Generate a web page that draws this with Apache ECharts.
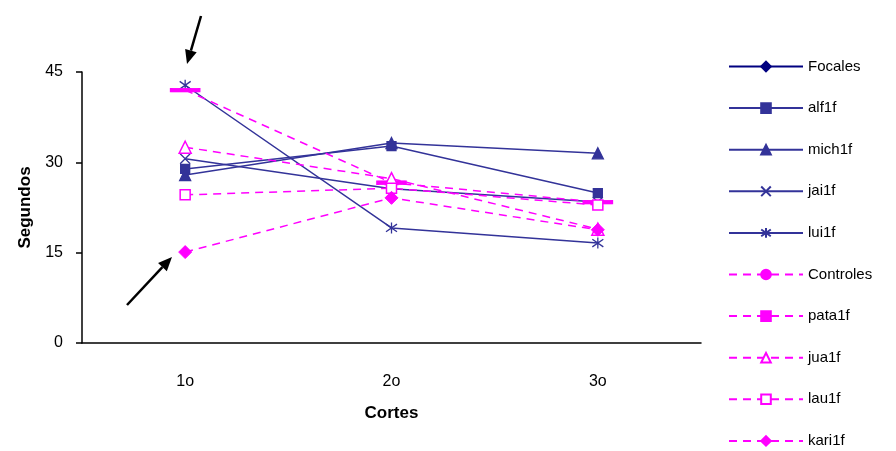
<!DOCTYPE html>
<html>
<head>
<meta charset="utf-8">
<script src="https://cdn.jsdelivr.net/npm/echarts@6/dist/echarts.min.js"></script>
<style>
  html, body { margin: 0; padding: 0; background: #fff; }
  #box { width: 896px; height: 451px; }
</style>
</head>
<body>
<div id="box"></div>
<script>
// categorias y valores
const cortes = ['1o', '2o', '3o']
const yTicks = [0, 15, 30, 45]

const focales = [null, null, null]
const alf1f = [28.9, 32.7, 24.9]
const mich1f = [27.9, 33.2, 31.5]
const jai1f = [30.6, 25.6, 23.4]
const lui1f = [42.8, 19.1, 16.6]

const controles = [null, null, null]
const pata1f = [42.0, 26.6, 23.4]
const jua1f = [32.5, 27.3, 18.9]
const lau1f = [24.6, 25.7, 22.9]
const kari1f = [15.1, 24.1, 18.8]

const NAVY = '#333399'
const MAGENTA = '#FF00FF'

const X_PATH = 'path://M0,0L10,10M10,0L0,10'
const STAR_PATH = 'path://M5,0L5,10M0,1.5L10,8.5M10,1.5L0,8.5'
const DASH_PATH = 'path://M0,0L10,0L10,1L0,1Z'

function focal(name, data, symbol, size, color) {
  return {
    name: name,
    type: 'line',
    data: data,
    symbol: symbol,
    symbolSize: size,
    lineStyle: { color: color || NAVY, width: 1.5 },
    itemStyle: { color: color || NAVY, borderColor: color || NAVY, borderWidth: 1.3 }
  }
}

function control(name, data, symbol, size, empty) {
  return {
    name: name,
    type: 'line',
    data: data,
    symbol: symbol,
    symbolSize: size,
    lineStyle: { color: MAGENTA, width: 1.5, type: [8, 6] },
    itemStyle: {
      color: empty ? '#fff' : MAGENTA,
      borderColor: MAGENTA,
      borderWidth: empty ? 1.5 : 1
    }
  }
}

const chart = echarts.init(document.getElementById('box'))

function arrow(x1, y1, x2, y2) {
  const ang = Math.atan2(y2 - y1, x2 - x1)
  const len = 14, half = 6
  const bx = x2 - len * Math.cos(ang), by = y2 - len * Math.sin(ang)
  const px = -Math.sin(ang) * half, py = Math.cos(ang) * half
  return [
    { type: 'line', shape: { x1: x1, y1: y1, x2: bx, y2: by }, style: { stroke: '#000', lineWidth: 2.5 } },
    { type: 'polygon', shape: { points: [[x2, y2], [bx + px, by + py], [bx - px, by - py]] }, style: { fill: '#000' } }
  ]
}

chart.setOption({
  animation: false,
  textStyle: { fontFamily: 'Liberation Sans, Arial, sans-serif' },
  grid: { left: 82, right: 195, top: 72, bottom: 108 },
  legend: {
    orient: 'vertical',
    left: 728,
    top: 59,
    height: 420,
    padding: 0,
    itemWidth: 74,
    itemHeight: 12,
    itemGap: 26.6,
    textStyle: { fontSize: 15, color: '#000' },
    data: ['Focales', 'alf1f', 'mich1f', 'jai1f', 'lui1f', 'Controles', 'pata1f', 'jua1f', 'lau1f', 'kari1f']
  },
  xAxis: {
    type: 'category',
    data: cortes,
    boundaryGap: true,
    name: 'Cortes',
    nameLocation: 'middle',
    nameGap: 62,
    nameTextStyle: { fontSize: 17, fontWeight: 'bold', color: '#000' },
    axisLine: { lineStyle: { color: '#000', width: 1.5 } },
    axisTick: { length: 6, lineStyle: { color: '#000', width: 1.5 } },
    axisLabel: { fontSize: 16, color: '#000', margin: 31 }
  },
  yAxis: {
    type: 'value',
    min: yTicks[0],
    max: yTicks[yTicks.length - 1],
    interval: 15,
    name: 'Segundos',
    nameLocation: 'middle',
    nameGap: 47,
    nameTextStyle: { fontSize: 17, fontWeight: 'bold', color: '#000' },
    splitLine: { show: false },
    axisLine: { show: true, lineStyle: { color: '#000', width: 1.5 } },
    axisTick: { show: true, length: 6, lineStyle: { color: '#000', width: 1.5 } },
    axisLabel: { fontSize: 16, color: '#000', margin: 19 }
  },
  series: [
    focal('Focales', focales, 'diamond', 12, '#000080'),
    focal('alf1f', alf1f, 'rect', 9),
    focal('mich1f', mich1f, 'triangle', 11),
    focal('jai1f', jai1f, X_PATH, 10),
    focal('lui1f', lui1f, STAR_PATH, 11),
    control('Controles', controles, 'circle', 11, false),
    control('pata1f', pata1f, DASH_PATH, [28, 4], false),
    control('jua1f', jua1f, 'triangle', 12, true),
    control('lau1f', lau1f, 'rect', 10, true),
    control('kari1f', kari1f, 'diamond', 13, false)
  ],
  graphic: arrow(201, 16, 187, 64).concat(arrow(127, 305, 172, 257))
})
</script>
</body>
</html>
